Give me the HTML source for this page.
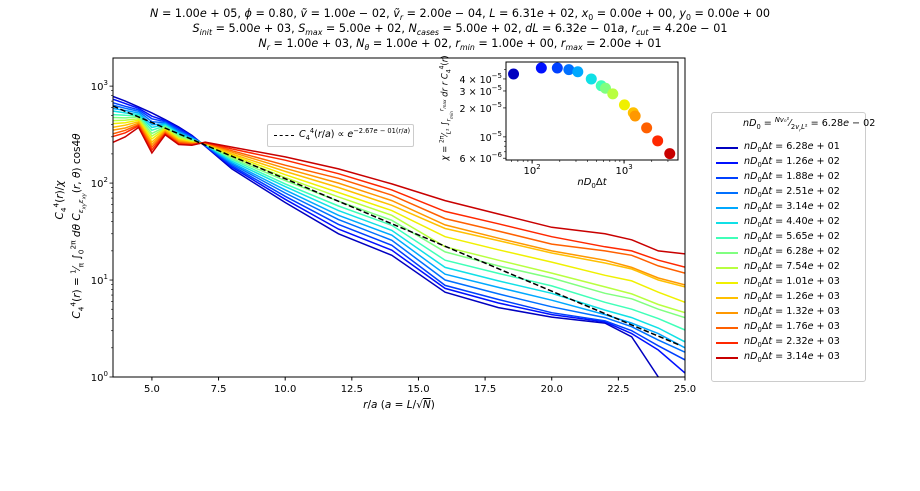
<!DOCTYPE html>
<html><head><meta charset="utf-8">
<style>
body{margin:0;background:#fff;}
#wrap{position:relative;width:920px;height:491px;overflow:hidden;font-family:"DejaVu Sans","Liberation Sans",sans-serif;color:#000;}
.t{position:absolute;white-space:nowrap;font-size:12px;}
.c{transform:translateX(-50%);text-align:center;}
i{font-style:italic;}
sub,sup{font-size:0.7em;line-height:0;}
svg{position:absolute;left:0;top:0;}
svg text{font-family:"DejaVu Sans","Liberation Sans",sans-serif;}
</style></head><body>
<div id="wrap">
<div class="t c" style="left:460px;top:7px;font-size:11.2px;"><i>N</i> = 1.00<i>e</i> + 05, <i>ϕ</i> = 0.80, <i>ṽ</i> = 1.00<i>e</i> − 02, <i>ṽ<sub>r</sub></i> = 2.00<i>e</i> − 04, <i>L</i> = 6.31<i>e</i> + 02, <i>x</i><sub>0</sub> = 0.00<i>e</i> + 00, <i>y</i><sub>0</sub> = 0.00<i>e</i> + 00</div>
<div class="t c" style="left:460px;top:22px;font-size:11.2px;"><i>S<sub>init</sub></i> = 5.00<i>e</i> + 03, <i>S<sub>max</sub></i> = 5.00<i>e</i> + 02, <i>N<sub>cases</sub></i> = 5.00<i>e</i> + 02, <i>dL</i> = 6.32<i>e</i> − 01<i>a</i>, <i>r<sub>cut</sub></i> = 4.20<i>e</i> − 01</div>
<div class="t c" style="left:460px;top:37px;font-size:11.2px;"><i>N<sub>r</sub></i> = 1.00<i>e</i> + 03, <i>N<sub>θ</sub></i> = 1.00<i>e</i> + 02, <i>r<sub>min</sub></i> = 1.00<i>e</i> + 00, <i>r<sub>max</sub></i> = 2.00<i>e</i> + 01</div>

<svg id="chart" width="920" height="491"></svg>

<div class="t c" style="left:399px;top:399px;font-size:10.5px;"><i>r</i>/<i>a</i> (<i>a</i> = <i>L</i>/√<span style="text-decoration:overline"><i>N</i></span>)</div>
<div class="t" style="left:60px;top:200px;transform:translate(-50%,-50%) rotate(-90deg);font-size:10.5px;"><i>C</i><sub>4</sub><sup>4</sup>(<i>r</i>)/<i>χ</i></div>
<div class="t" style="left:78px;top:226px;transform:translate(-50%,-50%) rotate(-90deg);font-size:10.5px;"><i>C</i><sub>4</sub><sup>4</sup>(<i>r</i>) = <sup>1</sup>⁄<sub>π</sub> ∫<sub>0</sub><sup>2π</sup> <i>dθ C<sub>ε<sub>xy</sub>ε<sub>xy</sub></sub></i>(<i>r</i>, <i>θ</i>) cos4<i>θ</i></div>

<div class="t" style="left:267px;top:124px;width:145px;height:21px;border:1px solid #ccc;border-radius:2px;background:#fff;font-size:9.5px;">
<span style="position:absolute;left:6px;top:10px;width:20px;border-top:1.5px dashed #000;"></span>
<span style="position:absolute;left:31px;top:4px;"><i>C</i><sub>4</sub><sup>4</sup>(<i>r</i>/<i>a</i>) ∝ <i>e</i><sup>−2.67<i>e</i> − 01(<i>r</i>/<i>a</i>)</sup></span></div>

<div class="t" style="left:446px;top:108px;transform:translate(-50%,-50%) rotate(-90deg);font-size:8.5px;"><i>χ</i> = <sup>2π</sup>⁄<sub><i>L</i>²</sub> ∫<sub><i>r<sub>min</sub></i></sub><sup><i>r<sub>max</sub></i></sup> <i>dr r C</i><sub>4</sub><sup>4</sup>(<i>r</i>)</div>
<div class="t c" style="left:592px;top:177px;font-size:10px;"><i>nD</i><sub>0</sub>Δ<i>t</i></div>

<div id="legend" class="t" style="left:711px;top:112px;width:153px;height:268px;border:1px solid #ccc;border-radius:3px;background:#fff;font-size:9.6px;">
<span style="position:absolute;left:31px;top:5px;font-size:9.6px;"><i>nD</i><sub>0</sub> = <sup><i>Nv</i>₀²</sup>⁄<sub>2<i>v<sub>r</sub>L</i>²</sub> = 6.28<i>e</i> − 02</span>
</div>
</div>
<script>
const grid = [3.5,4,4.5,5,5.5,6,6.5,7,8,10,12,14,16,18,20,22,23,24,25];
const s0 = [790,700,610,530,450,380,310,240,140,63,30,18,7.5,5.2,4.15,3.6,2.6,1.0,0.6];
const s1 = [740,660,590,490,440,370,305,242,146,68,33.5,20.3,8.2,5.8,4.4,3.7,2.8,1.9,1.1];
const s2 = [680,620,570,460,430,355,300,244,151,73,37.5,22.8,8.8,6.3,4.6,3.8,3.0,2.1,1.5];
const s3 = [640,590,550,430,420,345,295,246,157,79,42,25.7,10,7.2,5.3,4.1,3.3,2.4,1.8];
const s4 = [590,560,530,400,410,335,290,248,162,85,46.5,29,11.5,8.4,6.2,4.4,3.6,2.8,2.0];
const s5 = [555,530,510,375,400,325,285,250,168,92,52,32.5,13.5,9.8,7.3,4.9,4.1,3.2,2.3];
const s6 = [510,500,495,350,390,315,280,252,175,98,58,36.7,16,11.7,8.7,5.9,5.0,4.0,3.05];
const s7 = [475,470,480,325,380,305,275,254,180,106,65,41.3,19.5,14,10.5,7.3,6.4,5.0,4.1];
const s8 = [440,445,460,305,370,295,270,255,187,114,72,46.5,22,16,11.8,8.5,7.2,5.6,4.6];
const s9 = [410,420,445,285,360,285,265,256,194,122,80,52,28,20.5,15.3,11.2,9.8,7.5,5.9];
const s10 = [375,395,430,265,350,278,260,258,200,132,90,59,34,25.5,19,15,13,10,8.5];
const s11 = [350,370,415,250,340,270,257,259,208,142,100,66,37,27,20,16,13.5,10.5,8.9];
const s12 = [320,350,400,235,330,262,253,260,216,153,112,75,43,32,23.5,20,18,14,11.8];
const s13 = [300,330,390,220,322,255,249,262,225,172,125,85,51,38,28,22,20,16,13.6];
const s14 = [260,300,375,205,315,250,245,264,235,186,140,98,66,48,35,30,26,20,18.6];
const series = [s0,s1,s2,s3,s4,s5,s6,s7,s8,s9,s10,s11,s12,s13,s14];
const legendLabels = ["6.28e + 01","1.26e + 02","1.88e + 02","2.51e + 02","3.14e + 02","4.40e + 02","5.65e + 02","6.28e + 02","7.54e + 02","1.01e + 03","1.26e + 03","1.32e + 03","1.76e + 03","2.32e + 03","3.14e + 03"];
const colors = ["#0000c0","#0010ff","#0040ff","#0070ff","#00a8ff","#10e0e6","#40ffb8","#80ff80","#b8ff40","#f0f000","#ffc000","#ff9800","#ff6000","#ff2800","#c80000"];
const xTicks = [5,7.5,10,12.5,15,17.5,20,22.5,25];
const fitAmp = [1600];
const fitRate = [0.267];
const insetX = [62.8,126,188,251,314,440,565,628,754,1010,1260,1320,1760,2320,3140];
const insetY = [4.5e-5,5.2e-5,5.2e-5,5.0e-5,4.75e-5,4.0e-5,3.4e-5,3.2e-5,2.8e-5,2.15e-5,1.78e-5,1.65e-5,1.24e-5,9.1e-6,6.7e-6];

const NS="http://www.w3.org/2000/svg";
const svg=document.getElementById('chart');
function el(tag,attrs,parent){const e=document.createElementNS(NS,tag);for(const k in attrs)e.setAttribute(k,attrs[k]);(parent||svg).appendChild(e);return e;}
const L=113,R=685,T=58,B=377;
const xmin=3.54,xmax=25;
const ymin=0,ymax=Math.log10(1950);
const X=v=>L+(v-xmin)/(xmax-xmin)*(R-L);
const Y=v=>B-(Math.log10(v)-ymin)/(ymax-ymin)*(B-T);
const cp=el('clipPath',{id:'mc'});el('rect',{x:L,y:T,width:R-L,height:B-T},cp);
const g=el('g',{'clip-path':'url(#mc)'});
series.forEach((s,i)=>{
  const p=el('polyline',{points:s.map((v,j)=>X(grid[j]).toFixed(1)+','+Y(v).toFixed(1)).join(' '),fill:'none',stroke:colors[i],'stroke-width':1.5},g);
  
  
});
const fitPts=[];for(let r=xmin;r<=xmax+0.01;r+=0.25)fitPts.push(X(r).toFixed(1)+','+Y(fitAmp[0]*Math.exp(-fitRate[0]*r)).toFixed(1));
const fl=el('polyline',{points:fitPts.join(' '),fill:'none',stroke:'#000','stroke-width':1.5,'stroke-dasharray':'5.5,2.5'},g);


el('rect',{x:L,y:T,width:R-L,height:B-T,fill:'none',stroke:'#000','stroke-width':1});
xTicks.forEach(t=>{
  el('line',{x1:X(t),x2:X(t),y1:B,y2:B+3.5,stroke:'#000'});
  const tx=el('text',{x:X(t),y:B+15,'font-size':10,'text-anchor':'middle'});tx.textContent=t.toFixed(1);
  
  
});
for(let d=0;d<=3;d++){
  for(let m=1;m<=9;m++){const v=m*Math.pow(10,d);const lg=Math.log10(v);if(lg>ymax)break;
    el('line',{x1:L-(m==1?3.5:2),x2:L,y1:Y(v),y2:Y(v),stroke:'#000','stroke-width':m==1?0.8:0.6});}
  const tx=el('text',{x:L-5,y:Y(Math.pow(10,d))+4,'font-size':10,'text-anchor':'end'});
  
  
  tx.innerHTML='10<tspan dy="-5" font-size="7">'+d+'</tspan>';
}
const iL=506,iR=678,iT=62,iB=160;
const ixmin=Math.log10(52),ixmax=Math.log10(3860),iymin=Math.log10(5.75e-6),iymax=Math.log10(6.0e-5);
const IX=v=>iL+(Math.log10(v)-ixmin)/(ixmax-ixmin)*(iR-iL);
const IY=v=>iB-(Math.log10(v)-iymin)/(iymax-iymin)*(iB-iT);
el('rect',{x:iL,y:iT,width:iR-iL,height:iB-iT,fill:'#fff',stroke:'#000','stroke-width':1});
const ic=el('clipPath',{id:'ic'});el('rect',{x:iL,y:iT,width:iR-iL,height:iB-iT},ic);
const ig=el('g',{'clip-path':'url(#ic)'});
insetX.forEach((x,i)=>{
  const c=el('circle',{cx:IX(x),cy:IY(insetY[i]),r:5.5,fill:colors[i]},ig);
  
  
});
[100,1000].forEach((v,k)=>{el('line',{x1:IX(v),x2:IX(v),y1:iB,y2:iB+3.5,stroke:'#000'});
  const tx=el('text',{x:IX(v),y:iB+14,'font-size':10,'text-anchor':'middle'});tx.innerHTML='10<tspan dy="-5" font-size="7">'+(k+2)+'</tspan>';
  
  
});
[60,70,80,90,200,300,400,500,600,700,800,900,2000,3000].forEach(v=>{if(IX(v)>iL&&IX(v)<iR)el('line',{x1:IX(v),x2:IX(v),y1:iB,y2:iB+2,stroke:'#000','stroke-width':0.6});});
[[6e-6,'6 × 10','−6'],[1e-5,'10','−5'],[2e-5,'2 × 10','−5'],[3e-5,'3 × 10','−5'],[4e-5,'4 × 10','−5']].forEach(a=>{
  el('line',{x1:iL-3,x2:iL,y1:IY(a[0]),y2:IY(a[0]),stroke:'#000','stroke-width':0.7});
  const tx=el('text',{x:iL-4,y:IY(a[0])+4,'font-size':9.5,'text-anchor':'end'});tx.innerHTML=a[1]+'<tspan dy="-5" font-size="7">'+a[2]+'</tspan>';
  
  
});
[7e-6,8e-6,9e-6,5e-5].forEach(v=>el('line',{x1:iL-2,x2:iL,y1:IY(v),y2:IY(v),stroke:'#000','stroke-width':0.6}));
const lg=document.getElementById('legend');
legendLabels.forEach((lab,i)=>{
  const d=document.createElement('div');
  
  
  d.style.cssText='position:absolute;left:4px;top:'+(27+i*15)+'px;height:14px;width:148px;';
  d.innerHTML='<span style="position:absolute;left:0;top:7px;width:22px;border-top:2px solid '+colors[i]+';"></span><span style="position:absolute;left:28px;top:1px;"><i>nD</i><sub>0</sub>Δ<i>t</i> = '+lab.replace('e','<i>e</i>')+'</span>';
  lg.appendChild(d);
});
</script>
</body></html>
